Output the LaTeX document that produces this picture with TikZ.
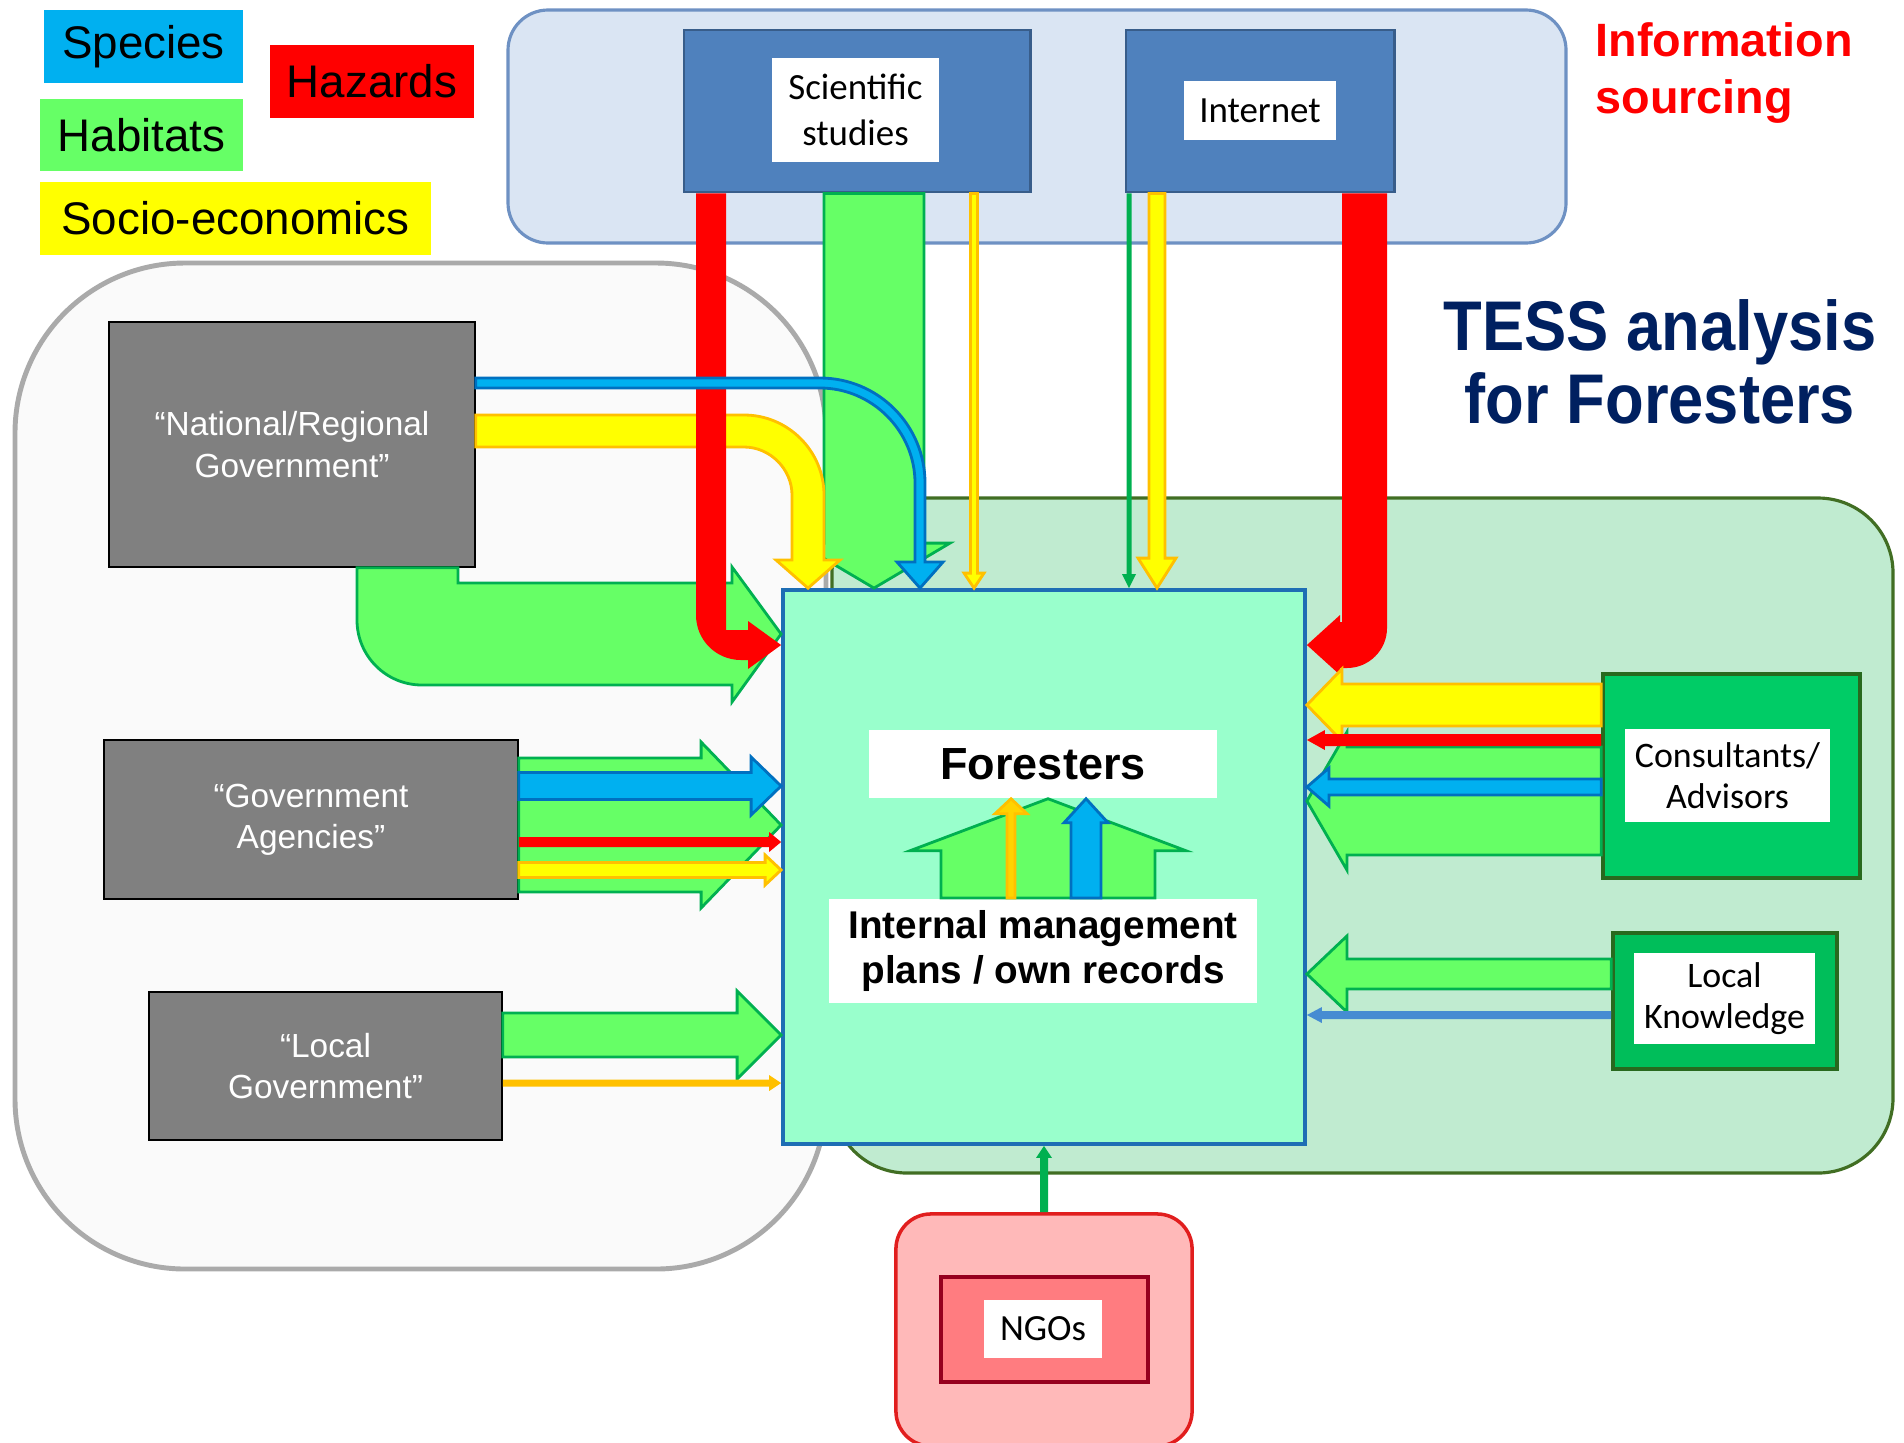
\documentclass[tikz,border=0pt]{standalone}
\usepackage{fontspec}
\usepackage{graphicx}
\setmainfont{Liberation Sans}
\newfontfamily\calib{Carlito}
\usetikzlibrary{calc}

\definecolor{spcfill}{RGB}{0,176,240}
\definecolor{spcline}{RGB}{0,112,192}
\definecolor{habfill}{RGB}{102,255,102}
\definecolor{habline}{RGB}{0,176,80}
\definecolor{socfill}{RGB}{255,255,0}
\definecolor{socline}{RGB}{255,192,0}
\definecolor{hazfill}{RGB}{255,0,0}
\definecolor{srcblue}{RGB}{79,129,189}
\definecolor{srcline}{RGB}{56,93,138}
\definecolor{infofill}{RGB}{218,229,243}
\definecolor{infoline}{RGB}{110,145,195}
\definecolor{govgray}{RGB}{128,128,128}
\definecolor{forfill}{RGB}{153,255,204}
\definecolor{forline}{RGB}{30,110,180}
\definecolor{domfill}{RGB}{192,235,208}
\definecolor{domline}{RGB}{65,110,35}
\definecolor{regfill}{RGB}{250,250,250}
\definecolor{regline}{RGB}{170,170,170}
\definecolor{consfill}{RGB}{0,204,102}
\definecolor{lkfill}{RGB}{0,190,90}
\definecolor{consline}{RGB}{40,105,30}
\definecolor{ngofill}{RGB}{255,185,185}
\definecolor{ngoline}{RGB}{225,30,30}
\definecolor{ngoinner}{RGB}{255,124,128}
\definecolor{ngodark}{RGB}{150,0,30}
\definecolor{titleblue}{RGB}{0,32,96}
\definecolor{lkblue}{RGB}{70,140,210}

\tikzset{
  legend/.style={minimum height=0.72cm, inner sep=0pt, font=\fontsize{13}{15}\selectfont},
  govbox/.style={draw=black, fill=govgray, text=white, align=center, inner sep=0pt,
    font=\fontsize{9.5}{11.7}\selectfont},
  srcbox/.style={draw=srcline, line width=0.8pt, fill=srcblue, inner sep=0pt},
  whitebox/.style={fill=white, inner sep=0pt, align=center, font=\calib\fontsize{10.5}{13}\selectfont},
  hab/.style={fill=habfill, draw=habline, line width=0.8pt},
  spc/.style={fill=spcfill, draw=spcline, line width=0.8pt},
  soc/.style={fill=socfill, draw=socline, line width=0.8pt},
  % block arrows: shaft half width, head half width, head length (px)
  hblock/.style n args={3}{to path={
    ($(\tikztostart)+(0,{-(#1)})$) -- ($(\tikztotarget)+({-(#3)},{-(#1)})$)
    -- ($(\tikztotarget)+({-(#3)},{-(#2)})$) -- (\tikztotarget)
    -- ($(\tikztotarget)+({-(#3)},{#2})$) -- ($(\tikztotarget)+({-(#3)},{#1})$)
    -- ($(\tikztostart)+(0,{#1})$) -- cycle}},
  vblock/.style n args={3}{to path={
    ($(\tikztostart)+({-(#1)},0)$) -- ($(\tikztotarget)+({-(#1)},{-(#3)})$)
    -- ($(\tikztotarget)+({-(#2)},{-(#3)})$) -- (\tikztotarget)
    -- ($(\tikztotarget)+({#2},{-(#3)})$) -- ($(\tikztotarget)+({#1},{-(#3)})$)
    -- ($(\tikztostart)+({#1},0)$) -- cycle}}
}

\begin{document}
\begin{tikzpicture}[x=0.01cm, y=-0.01cm]
\useasboundingbox (0,0) rectangle (1904,1442);
\clip (0,0) rectangle (1904,1442);

% regions
\draw[regline, fill=regfill, line width=1.4pt, rounded corners=1.7cm] (15,263) rectangle (826,1269);
\draw[domline, fill=domfill, line width=0.9pt, rounded corners=0.75cm] (832,498) rectangle (1893,1173);
\draw[infoline, fill=infofill, line width=0.9pt, rounded corners=0.4cm] (508,10) rectangle (1566,243);

% legend
\node[legend, fill=spcfill, minimum width=1.99cm] (species) at (143.5,46.5) {Species};
\node[legend, fill=hazfill, minimum width=2.04cm] (hazards) at (372,81.5) {Hazards};
\node[legend, fill=habfill, minimum width=2.03cm] (habitats) at (141.5,135) {Habitats};
\node[legend, fill=socfill, minimum width=3.91cm] (socio) at (235.5,218.5) {Socio-economics};

\node[text=titleblue, align=center, font=\bfseries\fontsize{20}{20.8}\selectfont] (title) at (1660,362)
  {\scalebox{0.9}[1]{TESS analysis}\\\scalebox{0.9}[1]{for Foresters}};
\node[text=hazfill, anchor=west, align=left, font=\bfseries\fontsize{13.3}{16.2}\selectfont] (infolbl) at (1583,73)
  {Information\\sourcing};

% information sources
\node[srcbox, minimum width=3.46cm, minimum height=1.62cm] (sci) at (857,111) {};
\node[whitebox, minimum width=1.67cm, minimum height=1.04cm] (scilbl) at (855.5,110) {Scientific\\studies};
\node[srcbox, minimum width=2.68cm, minimum height=1.62cm] (inet) at (1260,111) {};
\node[whitebox, minimum width=1.52cm, minimum height=0.59cm] (inetlbl) at (1260,110.5) {Internet};

% government
\node[govbox, minimum width=3.66cm, minimum height=2.45cm] (natgov) at (292,444.5) {“National/Regional\\Government”};
\node[govbox, minimum width=4.14cm, minimum height=1.59cm] (agency) at (311,819.5) {“Government\\Agencies”};
\node[govbox, minimum width=3.53cm, minimum height=1.48cm] (localgov) at (325.5,1066) {“Local\\Government”};

% foresters
\node[draw=forline, fill=forfill, line width=1pt, minimum width=5.22cm, minimum height=5.54cm] (forest) at (1044,867) {};
\node[fill=white, minimum width=3.48cm, minimum height=0.68cm, font=\bfseries\fontsize{12.8}{15}\selectfont] (forlbl) at (1043,764) {Foresters};
\node[fill=white, minimum width=4.28cm, minimum height=1.04cm, align=center, font=\bfseries\fontsize{11}{12.8}\selectfont] (intlbl) at (1043,951) {Internal management\\plans / own records};

% right side
\node[draw=consline, fill=consfill, line width=1pt, minimum width=2.57cm, minimum height=2.04cm] (consult) at (1731.5,776) {};
\node[whitebox, minimum width=2.05cm, minimum height=0.93cm, font=\calib\fontsize{10.2}{11.7}\selectfont] (conslbl) at (1727.5,775.5) {Consultants/\\Advisors};
\node[draw=consline, fill=lkfill, line width=1pt, minimum width=2.24cm, minimum height=1.36cm] (lk) at (1725,1001) {};
\node[whitebox, minimum width=1.81cm, minimum height=0.91cm, font=\calib\fontsize{10.2}{11.7}\selectfont] (lklbl) at (1724.5,998.5) {Local\\Knowledge};

% NGOs
\node[draw=ngoline, fill=ngofill, line width=1pt, rounded corners=0.35cm, minimum width=2.96cm, minimum height=2.32cm] (ngo) at (1044,1330) {};
\node[draw=ngodark, fill=ngoinner, line width=1pt, minimum width=2.07cm, minimum height=1.05cm] (ngoin) at (1044.5,1329.5) {};
\node[whitebox, minimum width=1.17cm, minimum height=0.58cm] (ngolbl) at (1043,1329) {NGOs};

% arrows from the scientific studies and the government
\draw[hab] (874,0 |- sci.south) to[vblock={50}{76}{45}] (874,0 |- forest.north);
\draw[soc] (974,0 |- sci.south) to[vblock={3.5}{10}{15}] (974,0 |- forest.north);
\draw[hab] (natgov.south -| 357,0) -- (357,620) .. controls (357,656) and (386,685) .. (422,685) -- (732,685) -- (732,702)
  -- (forest.west |- 0,634) -- (732,567) -- (732,583) -- (458,583) -- (natgov.south -| 458,0) -- cycle;
\draw[soc] (natgov.east |- 0,415) -- (744,415) .. controls (788,415) and (824,451) .. (824,495) -- (824,560) -- (840,560)
  -- (808,0 |- forest.north) -- (776,560) -- (792,560) -- (792,495) .. controls (792,469) and (770,447) .. (744,447)
  -- (natgov.east |- 0,447) -- cycle;
\fill[hazfill] (sci.south -| 696,0) -- (696,615) .. controls (696,640) and (716,660) .. (741,660) -- (748,660) -- (748,669)
  -- (forest.west |- 0,645) -- (748,621) -- (748,630) -- (726,630) -- (sci.south -| 726,0) -- cycle;
\draw[spc] (natgov.east |- 0,378) -- (820,378) .. controls (878,378) and (925,425) .. (925,483) -- (925,562) -- (943,562)
  -- (920,0 |- forest.north) -- (897,562) -- (915,562) -- (915,483) .. controls (915,431) and (872,388) .. (820,388)
  -- (natgov.east |- 0,388) -- cycle;

% internet
\fill[hazfill] (inet.south -| 1387,0) -- (1387,628) .. controls (1387,650) and (1369,668) .. (1347,668) -- (1340,668) -- (1340,675)
  -- (forest.east |- 0,645) -- (1340,615) -- (1340,622) -- (1342,622) -- (inet.south -| 1342,0) -- cycle;
\fill[habline] (1129,0 |- inet.south) to[vblock={2.5}{7}{14}] (1129,0 |- forest.north);
\draw[soc] (1157,0 |- inet.south) to[vblock={8}{19}{30}] (1157,0 |- forest.north);

\draw[hab] (agency.east |- 0,825) to[hblock={67}{83}{80}] (forest.west |- 0,825);
\draw[spc] (agency.east |- 0,786) to[hblock={13.5}{29}{30}] (forest.west |- 0,786);
\fill[hazfill] (agency.east |- 0,842) to[hblock={5}{10}{12}] (forest.west |- 0,842);
\draw[soc] (agency.east |- 0,870) to[hblock={7.5}{15}{16}] (forest.west |- 0,870);

\draw[hab] (localgov.east |- 0,1035) to[hblock={22}{44}{44}] (forest.west |- 0,1035);
\fill[socline] (localgov.east |- 0,1083) to[hblock={3.5}{8}{12}] (forest.west |- 0,1083);

% consultants and local knowledge
\draw[hab] (consult.west |- 0,801) to[hblock={54}{69}{-40}] (forest.east |- 0,801);
\draw[soc] (consult.west |- 0,705) to[hblock={21}{36}{-35}] (forest.east |- 0,705);
\fill[hazfill] (consult.west |- 0,740) to[hblock={6}{10}{-18}] (forest.east |- 0,740);
\draw[spc] (consult.west |- 0,787) to[hblock={8}{19}{-22}] (forest.east |- 0,787);
\draw[hab] (lk.west |- 0,974) to[hblock={15}{38}{-40}] (forest.east |- 0,974);
\fill[lkblue] (lk.west |- 0,1015) to[hblock={4}{8}{-15}] (forest.east |- 0,1015);

\fill[habline] (ngo.north) to[vblock={4}{8}{-12}] (forest.south -| ngo.north);

% inside the foresters box
\draw[hab] (intlbl.north -| 1048,0) to[vblock={107}{138}{-52}] (forlbl.south -| 1048,0);
\draw[soc, fill=socline!70!socfill] (intlbl.north -| 1011,0) to[vblock={4}{16}{-15}] (forlbl.south -| 1011,0);
\draw[spc] (intlbl.north -| 1086,0) to[vblock={15}{22}{-24}] (forlbl.south -| 1086,0);
\end{tikzpicture}
\end{document}
